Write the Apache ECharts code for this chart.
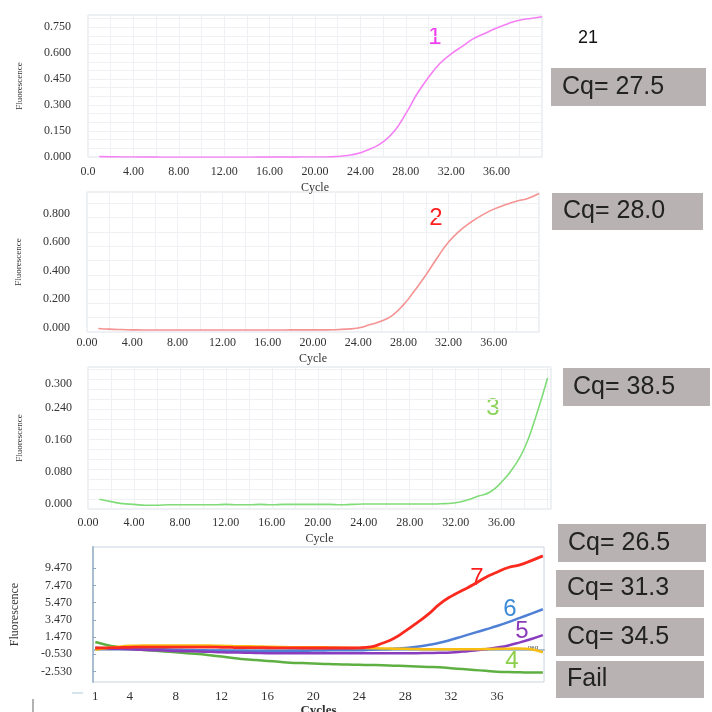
<!DOCTYPE html>
<html><head><meta charset="utf-8">
<script src="https://cdn.jsdelivr.net/npm/echarts@6/dist/echarts.min.js"></script>
<style>html,body{margin:0;padding:0;background:#fff}#c{width:712px;height:712px}</style>
</head><body><div id="c"></div><script>
// ---- data ----
const cycles = [1,2,3,4,5,6,7,8,9,10,11,12,13,14,15,16,17,18,19,20,21,22,23,24,25,26,27,28,29,30,31,32,33,34,35,36,37,38,39,40];
const curve1 = [0.002,0.001,0.000,0.000,-0.001,-0.001,-0.002,-0.002,-0.002,-0.002,-0.002,-0.002,-0.002,-0.002,-0.001,-0.001,-0.001,-0.001,0.000,0.000,0.000,0.003,0.010,0.025,0.050,0.087,0.150,0.250,0.365,0.460,0.540,0.595,0.640,0.685,0.715,0.745,0.770,0.790,0.800,0.810];
const curve2 = [-0.005,-0.010,-0.013,-0.015,-0.016,-0.016,-0.016,-0.016,-0.016,-0.016,-0.016,-0.016,-0.016,-0.016,-0.016,-0.016,-0.016,-0.015,-0.015,-0.015,-0.015,-0.014,-0.010,-0.002,0.020,0.045,0.085,0.160,0.260,0.370,0.490,0.600,0.680,0.740,0.790,0.830,0.860,0.885,0.905,0.940];
const curve3 = [0.012,0.006,0.001,-0.001,-0.003,-0.003,-0.002,-0.002,-0.002,-0.002,-0.002,-0.001,-0.002,-0.002,-0.001,-0.002,-0.001,-0.001,-0.001,-0.001,-0.001,-0.002,-0.001,0.000,0.000,0.000,0.000,0.000,0.000,0.000,0.001,0.003,0.010,0.020,0.030,0.055,0.090,0.140,0.220,0.315];
const s7 = [0.20,0.22,0.25,0.28,0.30,0.30,0.30,0.30,0.30,0.30,0.30,0.28,0.26,0.25,0.24,0.23,0.22,0.21,0.20,0.20,0.20,0.20,0.20,0.22,0.32,0.75,1.30,2.15,3.10,4.10,5.30,6.20,6.90,7.60,8.40,9.00,9.55,9.85,10.35,10.90];
const s6 = [0.20,0.18,0.16,0.15,0.12,0.08,0.04,0.00,-0.03,-0.06,-0.08,-0.10,-0.12,-0.13,-0.14,-0.15,-0.14,-0.13,-0.12,-0.10,-0.08,-0.07,-0.06,-0.05,0.00,0.05,0.10,0.20,0.35,0.55,0.80,1.15,1.55,1.95,2.35,2.75,3.20,3.70,4.20,4.70];
const s5 = [0.20,0.15,0.10,0.05,0.00,-0.05,-0.10,-0.15,-0.18,-0.20,-0.25,-0.30,-0.32,-0.35,-0.38,-0.40,-0.40,-0.40,-0.40,-0.40,-0.40,-0.40,-0.40,-0.40,-0.40,-0.40,-0.40,-0.40,-0.40,-0.38,-0.36,-0.32,-0.22,-0.10,0.05,0.25,0.50,0.85,1.25,1.70];
const sNeg = [0.00,0.20,0.35,0.45,0.48,0.50,0.50,0.50,0.50,0.50,0.48,0.45,0.42,0.40,0.38,0.35,0.32,0.30,0.30,0.30,0.28,0.25,0.22,0.20,0.18,0.15,0.12,0.10,0.08,0.05,0.05,0.05,0.05,0.05,0.08,0.10,0.12,0.15,0.05,-0.30];
const s4 = [0.90,0.55,0.30,0.10,0.00,-0.10,-0.20,-0.30,-0.40,-0.50,-0.65,-0.80,-0.95,-1.10,-1.20,-1.30,-1.40,-1.50,-1.55,-1.60,-1.65,-1.70,-1.72,-1.75,-1.78,-1.80,-1.85,-1.90,-1.95,-2.00,-2.05,-2.15,-2.25,-2.35,-2.45,-2.55,-2.60,-2.62,-2.65,-2.65];
const xTicks123 = [0,4,8,12,16,20,24,28,32,36];
const xTicks4 = [1,4,8,12,16,20,24,28,32,36];
const yTicks1 = [0,0.15,0.30,0.45,0.60,0.75];
const yTicks2 = [0,0.2,0.4,0.6,0.8];
const yTicks3 = [0,0.08,0.16,0.24,0.30];
const yTicks4 = [-2.53,-0.53,1.47,3.47,5.47,7.47,9.47];
const cqLabels = ['Cq= 27.5','Cq= 28.0','Cq= 38.5','Cq= 26.5','Cq= 31.3','Cq= 34.5','Fail'];

const pair = arr => cycles.map((c,i)=>[c,arr[i]]);
const SERIF = '"Liberation Serif","DejaVu Serif",serif';
const SANS = '"Liberation Sans",Arial,sans-serif';
const GRIDLINE = '#eef0f3';

const chart = echarts.init(document.getElementById('c'));

function xAx(idx, min, max, ticks, fmt, nameGap, labelMargin) {
  return {
    type:'value', gridIndex:idx, min:min, max:max, interval:2,
    name: 'Cycle', nameLocation:'middle', nameGap:nameGap,
    nameTextStyle:{fontFamily:SERIF, fontSize:12, color:'#333'},
    axisLine:{show:false}, axisTick:{show:false},
    axisLabel:{customValues:ticks, formatter:fmt, fontFamily:SERIF, fontSize:12, color:'#333', margin:labelMargin},
    splitLine:{show:true, lineStyle:{color:GRIDLINE, width:1}}
  };
}
function yAx(idx, min, max, interval, ticks, labelMargin, nameGap) {
  return {
    type:'value', gridIndex:idx, min:min, max:max, interval:interval,
    name:'Fluorescence', nameLocation:'middle', nameRotate:90, nameGap:nameGap,
    nameTextStyle:{fontFamily:SERIF, fontSize:9, color:'#333'},
    axisLine:{show:false}, axisTick:{show:false},
    axisLabel:{customValues:ticks, formatter:v=>v.toFixed(3), fontFamily:SERIF, fontSize:12, color:'#333', margin:labelMargin},
    splitLine:{show:true, lineStyle:{color:GRIDLINE, width:1}}
  };
}

const fmt2 = v => v.toFixed(2);
const box = (x,y,w,h,label,tx) => [
  {type:'rect', shape:{x:x,y:y,width:w,height:h}, style:{fill:'#b9b2b2'}},
  {type:'text', x:tx, y:y+h/2, style:{text:label, font:'25px '+SANS, fill:'#222', textVerticalAlign:'middle'}}
];
const tag = (x,y,t,color,size) => ({type:'text', x:x, y:y, style:{text:t, font:(size||24)+'px '+SANS, fill:color, textAlign:'center', textVerticalAlign:'middle'}});
const G = {show:true, borderColor:'#dde2e7', borderWidth:1, containLabel:false, outerBoundsMode:'none'};

const option = {
  animation:false,
  backgroundColor:'#fff',
  grid:[
    Object.assign({left:88, top:15, width:454, height:142}, G),
    Object.assign({left:87, top:192, width:452, height:140}, G),
    Object.assign({left:88, top:367, width:463, height:142}, G),
    Object.assign({left:93, top:547, width:451, height:135}, G, {borderColor:'#c8d4df'})
  ],
  xAxis:[
    xAx(0, 0, 40, xTicks123, v => v===0 ? '0.0' : v.toFixed(2), 25, 9),
    xAx(1, 0, 40, xTicks123, fmt2, 21, 5),
    xAx(2, 0, 40.3, xTicks123, fmt2, 24, 8),
    {
      type:'value', gridIndex:3, min:0.8, max:40.1,
      name:'Cycles', nameLocation:'middle', nameGap:21,
      nameTextStyle:{fontFamily:SERIF, fontSize:13, color:'#333', fontWeight:'bold'},
      axisLine:{show:true, lineStyle:{color:'#a9bdd0', width:2}},
      axisTick:{show:false},
      axisLabel:{customValues:xTicks4, formatter:v=>String(Math.round(v)), fontFamily:SERIF, fontSize:13, color:'#333', margin:8},
      splitLine:{show:false}
    }
  ],
  yAxis:[
    yAx(0, 0, 0.82, 0.05, yTicks1, 17, 64),
    yAx(1, -0.03, 0.95, 0.1, yTicks2, 17, 64),
    yAx(2, -0.0125, 0.3425, 0.025, yTicks3, 16, 64),
    {
      type:'value', gridIndex:3, min:-3.75, max:11.93,
      name:'Fluorescence', nameLocation:'middle', nameRotate:90, nameGap:72,
      nameTextStyle:{fontFamily:SERIF, fontSize:12, color:'#333'},
      axisLine:{show:true, lineStyle:{color:'#a9bdd0', width:2}},
      axisTick:{show:true, customValues:yTicks4, inside:true, length:3, lineStyle:{color:'#8fa5bb'}},
      axisLabel:{customValues:yTicks4, formatter:v=>v.toFixed(3), fontFamily:SERIF, fontSize:12, color:'#333', margin:21},
      splitLine:{show:false}
    }
  ],
  series:[
    {type:'line', xAxisIndex:0, yAxisIndex:0, data:pair(curve1), showSymbol:false, smooth:true, lineStyle:{color:'#f57ff5', width:1.6}},
    {type:'line', xAxisIndex:1, yAxisIndex:1, data:pair(curve2), showSymbol:false, smooth:true, lineStyle:{color:'#f59393', width:1.6}},
    {type:'line', xAxisIndex:2, yAxisIndex:2, data:pair(curve3), showSymbol:false, smooth:true, lineStyle:{color:'#80dc78', width:1.6}},
    {type:'line', xAxisIndex:3, yAxisIndex:3, data:pair(s4), showSymbol:false, smooth:true, lineStyle:{color:'#5fb043', width:2.5}},
    {type:'line', xAxisIndex:3, yAxisIndex:3, data:pair(s6), showSymbol:false, smooth:true, lineStyle:{color:'#4f80d6', width:2.5}},
    {type:'line', xAxisIndex:3, yAxisIndex:3, data:pair(s5), showSymbol:false, smooth:true, lineStyle:{color:'#8a3cbf', width:2.5}},
    {type:'line', xAxisIndex:3, yAxisIndex:3, data:pair(sNeg), showSymbol:false, smooth:true, lineStyle:{color:'#f7bd12', width:2.5}},
    {type:'line', xAxisIndex:3, yAxisIndex:3, data:pair(s7), showSymbol:false, smooth:true, lineStyle:{color:'#fb2a1e', width:2.8}}
  ],
  graphic:[
    {type:'text', x:588, y:38, style:{text:'21', font:'18px '+SANS, fill:'#111', textAlign:'center', textVerticalAlign:'middle'}},
    ...box(551,68,155,38,cqLabels[0],562),
    ...box(552,193,151,37,cqLabels[1],563),
    ...box(563,368,147,38,cqLabels[2],573),
    ...box(558,524,148,38,cqLabels[3],568),
    ...box(556,570,148,37,cqLabels[4],567),
    ...box(556,618,148,38,cqLabels[5],567),
    ...box(556,661,148,37,cqLabels[6],567),
    tag(435,37,'1','#f03ef0'),
    tag(436,218,'2','#ff2020'),
    tag(493,408,'3','#8bd35a'),
    tag(477,578,'7','#ff1c1c'),
    tag(510,609,'6','#3d8bd8'),
    tag(522,631,'5','#8a3cb8'),
    tag(512,661,'4','#8ccf4a'),
    tag(533,647,'neg','#444',6),
    {type:'line', shape:{x1:72,y1:693,x2:83,y2:693}, style:{stroke:'#c9dbe9', lineWidth:1.5}},
    {type:'line', shape:{x1:33,y1:699,x2:33,y2:712}, style:{stroke:'#999', lineWidth:1.5}}
  ]
};
chart.setOption(option);
</script></body></html>
